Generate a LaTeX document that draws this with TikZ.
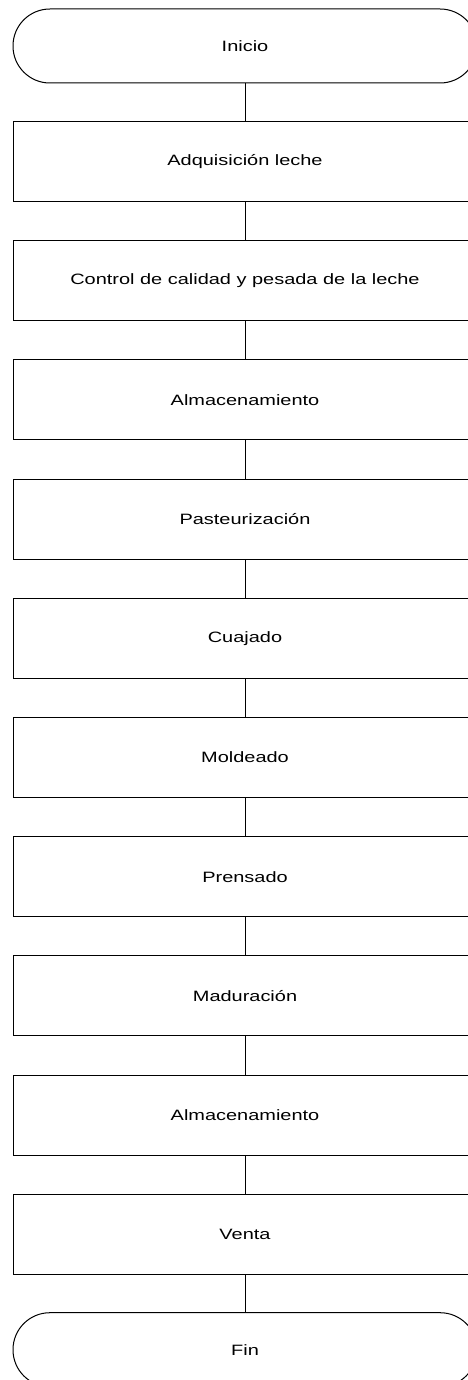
\documentclass[tikz,border=0pt]{standalone}
\usepackage{fontspec}
\newfontfamily\lbl[FakeStretch=1.33]{Liberation Sans}
\begin{document}
\begin{tikzpicture}[x=1pt,y=-1pt,
  proc/.style={draw=black, line width=1pt, rectangle, minimum width=464pt, minimum height=80pt, inner sep=0pt,
    font=\lbl\fontsize{15}{18}\selectfont},
  term/.style={draw=black, line width=1pt, rectangle, rounded corners=36.9pt, minimum width=464pt, minimum height=74pt, inner sep=0pt,
    font=\lbl\fontsize{15}{18}\selectfont},
  conn/.style={draw=black, line width=1pt}]
\useasboundingbox (0,0) rectangle (467,1380);
\node[term] (t0) at (245,46) {Inicio};
\node[proc] (b1) at (245,161.5) {Adquisición leche};
\node[proc] (b2) at (245,280.7) {Control de calidad y pesada de la leche};
\node[proc] (b3) at (245,399.9) {Almacenamiento};
\node[proc] (b4) at (245,519.1) {Pasteurización};
\node[proc] (b5) at (245,638.3) {Cuajado};
\node[proc] (b6) at (245,757.5) {Moldeado};
\node[proc] (b7) at (245,876.7) {Prensado};
\node[proc] (b8) at (245,995.9) {Maduración};
\node[proc] (b9) at (245,1115.1) {Almacenamiento};
\node[proc] (b10) at (245,1234.3) {Venta};
\node[term] (t1) at (245,1349.7) {Fin};
\draw[conn] (t0) -- (b1);
\draw[conn] (b1) -- (b2);
\draw[conn] (b2) -- (b3);
\draw[conn] (b3) -- (b4);
\draw[conn] (b4) -- (b5);
\draw[conn] (b5) -- (b6);
\draw[conn] (b6) -- (b7);
\draw[conn] (b7) -- (b8);
\draw[conn] (b8) -- (b9);
\draw[conn] (b9) -- (b10);
\draw[conn] (b10) -- (t1);
\end{tikzpicture}
\end{document}
